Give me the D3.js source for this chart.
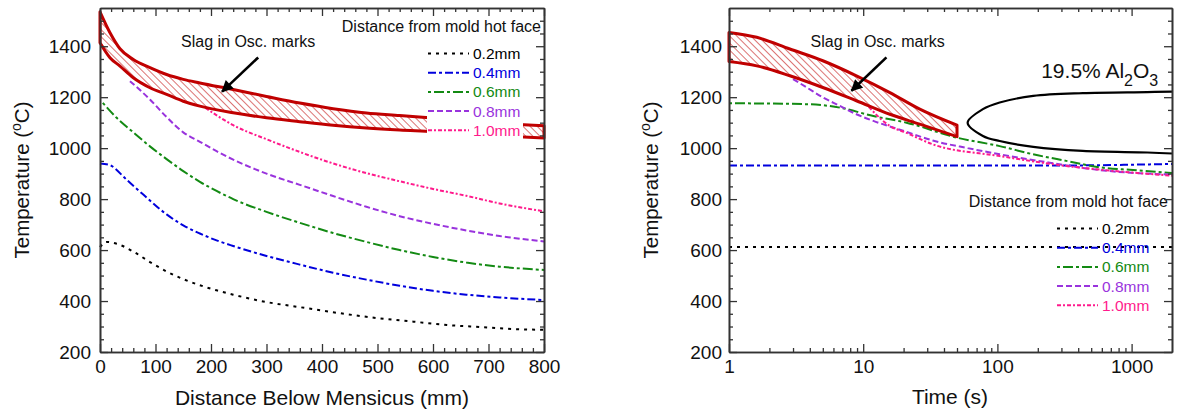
<!DOCTYPE html>
<html>
<head>
<meta charset="utf-8">
<script src="https://cdn.jsdelivr.net/npm/d3@7"></script>
<style>
  body { margin: 0; background: #fff; }
  svg text { font-family: "Liberation Sans", Arial, sans-serif; fill: #111; }
</style>
</head>
<body>
<script>
// ---- data ----
const tempTicks = [200, 400, 600, 800, 1000, 1200, 1400]
const distTicks = [0, 100, 200, 300, 400, 500, 600, 700, 800]
const timeTicks = [1, 10, 100, 1000]
const depthLabels = ['0.2mm', '0.4mm', '0.6mm', '0.8mm', '1.0mm']

// left: temperature vs distance below meniscus, [mm, degC]
const dist02 = [[0, 612], [12, 632], [30, 625], [60, 594], [90, 553], [120, 516], [150, 486], [180, 462], [210, 442], [240, 425], [300, 396], [360, 376], [420, 356], [500, 333], [565, 319], [625, 306], [685, 298], [745, 290], [800, 287]]
const dist04 = [[0, 940], [18, 933], [48, 876], [78, 818], [120, 740], [150, 697], [180, 665], [210, 638], [240, 616], [300, 577], [360, 543], [420, 511], [480, 484], [540, 460], [600, 440], [660, 425], [720, 414], [800, 404]]
const dist06 = [[5, 1178], [30, 1119], [60, 1062], [90, 1007], [120, 957], [150, 910], [180, 868], [210, 832], [240, 800], [300, 750], [360, 707], [420, 667], [480, 632], [540, 600], [600, 573], [660, 551], [720, 535], [800, 522]]
const dist08 = [[54, 1263], [90, 1191], [120, 1122], [150, 1062], [180, 1025], [210, 988], [240, 955], [300, 900], [360, 856], [420, 812], [480, 770], [540, 733], [600, 703], [660, 677], [720, 655], [800, 634]]
const dist10 = [[190, 1158], [240, 1090], [300, 1035], [360, 985], [420, 940], [480, 902], [540, 870], [600, 840], [660, 813], [720, 783], [800, 752]]
const slagDist = [0, 18, 36, 60, 90, 120, 150, 180, 240, 300, 360, 420, 480, 540, 600, 660, 720, 800]
const slagDistHi = [1535, 1453, 1390, 1348, 1316, 1289, 1270, 1256, 1230, 1203, 1177, 1155, 1138, 1128, 1118, 1108, 1098, 1088]
const slagDistLo = [1414, 1355, 1322, 1276, 1237, 1211, 1184, 1165, 1139, 1119, 1104, 1090, 1079, 1071, 1065, 1056, 1048, 1040]

// right: temperature vs time, [s, degC]
const time02 = [[1, 612], [2000, 612]]
const time04 = [[1, 932], [300, 932], [1000, 935], [2000, 938]]
const time06 = [[1, 1176], [2, 1175], [4, 1172], [6.7, 1159], [11.9, 1126], [21, 1100], [50, 1041], [104, 1008], [184, 976], [326, 950], [577, 925], [1025, 914], [2000, 902]]
const time08 = [[3, 1271], [3.8, 1238], [5, 1199], [6.7, 1166], [8.9, 1133], [11.9, 1107], [21, 1064], [33, 1030], [60, 1000], [104, 976], [245, 943], [577, 914], [2000, 896]]
const time10 = [[11, 1162], [15.8, 1087], [21, 1060], [33, 1015], [104, 969], [326, 930], [1025, 904], [2000, 892]]
const slagTime = [1, 1.61, 2.84, 5, 8.9, 15.8, 26.4, 50]
const slagTimeHi = [1454, 1435, 1389, 1343, 1284, 1218, 1153, 1090]
const slagTimeLo = [1340, 1323, 1284, 1238, 1186, 1133, 1094, 1045]
// 19.5% Al2O3 boundary
const aluminaCurve = [[2000, 1222], [1310, 1220], [432, 1216], [185, 1205], [104, 1179], [78, 1153], [60, 1100], [78, 1048], [104, 1028], [185, 1005], [432, 989], [1310, 983], [2000, 979]]

// ---- styles ----
const colors = ['#000000', '#0000dd', '#138a13', '#9933dd', '#ff1a8c']
const dashes = ['3,5', '8,3,3,3', '3,3,10,3', '6,3', '4,2,2,2']
const red = '#c00000'

const W = 1177, H = 417
const svg = d3.select('body').append('svg').attr('width', W).attr('height', H)

const defs = svg.append('defs')
const hatch = defs.append('pattern')
  .attr('id', 'hatch').attr('patternUnits', 'userSpaceOnUse')
  .attr('width', 5).attr('height', 5)
  .attr('patternTransform', 'rotate(-45)')
hatch.append('rect').attr('width', 5).attr('height', 5).attr('fill', '#fff')
hatch.append('line').attr('x1', 0).attr('y1', 0).attr('x2', 0).attr('y2', 5)
  .attr('stroke', red).attr('stroke-width', 1.1)

defs.append('marker').attr('id', 'arrow')
  .attr('viewBox', '0 0 10 10').attr('refX', 9).attr('refY', 5)
  .attr('markerWidth', 5).attr('markerHeight', 4.5).attr('orient', 'auto')
  .attr('markerUnits', 'strokeWidth')
  .append('path').attr('d', 'M0,0 L10,5 L0,10 Z').attr('fill', '#000')

const yTop = 8, yBot = 352
const yScaleL = d3.scaleLinear().domain([200, 1550]).range([yBot, yTop])
const yScaleR = d3.scaleLinear().domain([200, 1550]).range([yBot, yTop])
const xScaleL = d3.scaleLinear().domain([0, 800]).range([100, 544])
const xScaleR = d3.scaleLog().domain([1, 2000]).range([729, 1172])

const tempMinor = d3.range(250, 1550, 50).filter(v => v % 200 !== 0)
const distMinor = d3.range(20, 800, 20).filter(v => v % 100 !== 0)
const timeMinor = [2, 3, 4, 5, 6, 7, 8, 9].flatMap(m => [m, m * 10, m * 100])

function styleAxis (g) {
  g.selectAll('path.domain').attr('stroke', '#333').attr('stroke-width', 1.6)
  g.selectAll('.tick line').attr('stroke', '#333').attr('stroke-width', 1.3)
  g.selectAll('.tick text').attr('font-size', 19).attr('fill', '#111')
}

function frame (x, y, xMajor, xMinor, xFmt, yPad) {
  const [x0, x1] = x.range()
  const axes = [
    [d3.axisBottom(x), xMajor, xFmt, 8, 'translate(0,' + yBot + ')'],
    [d3.axisBottom(x), xMinor, null, 4, 'translate(0,' + yBot + ')'],
    [d3.axisTop(x), xMajor, null, 8, 'translate(0,' + yTop + ')'],
    [d3.axisTop(x), xMinor, null, 4, 'translate(0,' + yTop + ')'],
    [d3.axisLeft(y), tempTicks, d3.format('d'), 8, 'translate(' + x0 + ',0)'],
    [d3.axisLeft(y), tempMinor, null, 4, 'translate(' + x0 + ',0)'],
    [d3.axisRight(y), tempTicks, null, 8, 'translate(' + x1 + ',0)'],
    [d3.axisRight(y), tempMinor, null, 4, 'translate(' + x1 + ',0)']
  ]
  axes.forEach(([ax, vals, fmt, len, tr], i) => {
    ax.tickValues(vals).tickSizeInner(-len).tickSizeOuter(0)
      .tickPadding(i === 4 ? yPad : 8)
      .tickFormat(fmt || (() => ''))
    svg.append('g').attr('transform', tr).call(ax).call(styleAxis)
  })
}

function drawSeries (x, y, series) {
  const line = d3.line().x(d => x(d[0])).y(d => y(d[1])).curve(d3.curveMonotoneX)
  series.forEach((s, i) => {
    svg.append('path').datum(s).attr('d', line)
      .attr('fill', 'none').attr('stroke', colors[i]).attr('stroke-width', 2)
      .attr('stroke-dasharray', dashes[i])
  })
}

function drawBand (x, y, xs, hi, lo) {
  const area = d3.area().x(d => x(d)).y1((d, i) => y(hi[i])).y0((d, i) => y(lo[i]))
    .curve(d3.curveMonotoneX)
  svg.append('path').datum(xs).attr('d', area)
    .attr('fill', 'url(#hatch)').attr('stroke', red).attr('stroke-width', 3)
    .attr('stroke-linejoin', 'round')
}

function drawArrow (x, y, from, to, label, labelAt) {
  svg.append('line')
    .attr('x1', x(from[0])).attr('y1', y(from[1]))
    .attr('x2', x(to[0])).attr('y2', y(to[1]))
    .attr('stroke', '#000').attr('stroke-width', 2.6).attr('marker-end', 'url(#arrow)')
  svg.append('text').attr('x', x(labelAt[0])).attr('y', y(labelAt[1]))
    .attr('font-size', 16).text(label)
}

function legend (xLine, xRight, yTitle, rows, bg) {
  const g = svg.append('g')
  if (bg) g.append('rect').attr('x', bg[0]).attr('y', bg[1]).attr('width', bg[2]).attr('height', bg[3]).attr('fill', '#fff')
  g.append('text').attr('x', xRight).attr('y', yTitle).attr('text-anchor', 'end')
    .attr('font-size', 16).text('Distance from mold hot face')
  depthLabels.forEach((lab, i) => {
    const yy = rows[0] + i * rows[1]
    g.append('line').attr('x1', xLine).attr('x2', xLine + 41).attr('y1', yy).attr('y2', yy)
      .attr('stroke', colors[i]).attr('stroke-width', 2).attr('stroke-dasharray', dashes[i])
    g.append('text').attr('x', xLine + 45).attr('y', yy + 5.5).attr('font-size', 15.5)
      .style('fill', colors[i]).text(lab)
  })
}

function yTitle (xb) {
  const t = svg.append('text')
    .attr('transform', 'translate(' + xb + ',' + (yTop + yBot) / 2 + ') rotate(-90)')
    .attr('text-anchor', 'middle').attr('font-size', 20.5)
  t.append('tspan').text('Temperature (')
  t.append('tspan').attr('font-size', 14).attr('dy', -8).text('o')
  t.append('tspan').attr('dy', 8).text('C)')
}

// ---- left chart ----
drawSeries(xScaleL, yScaleL, [dist02, dist04, dist06, dist08, dist10])
drawBand(xScaleL, yScaleL, slagDist, slagDistHi, slagDistLo)
legend(428, 541, 32, [53.5, 19.2], [427, 40, 96, 102])
drawArrow(xScaleL, yScaleL, [285, 1356], [220, 1222], 'Slag in Osc. marks', [146, 1395])
frame(xScaleL, yScaleL, distTicks, distMinor, d3.format('d'), 9)
yTitle(29)
svg.append('text').attr('x', 322).attr('y', 405).attr('text-anchor', 'middle')
  .attr('font-size', 21).text('Distance Below Mensicus (mm)')

// ---- right chart ----
drawSeries(xScaleR, yScaleR, [time02, time04, time06, time08, time10])
drawBand(xScaleR, yScaleR, slagTime, slagTimeHi, slagTimeLo)
svg.append('path').datum(aluminaCurve)
  .attr('d', d3.line().x(d => xScaleR(d[0])).y(d => yScaleR(d[1])).curve(d3.curveCatmullRom))
  .attr('fill', 'none').attr('stroke', '#000').attr('stroke-width', 2.2)
const al = svg.append('text').attr('x', xScaleR(212)).attr('y', yScaleR(1275)).attr('font-size', 21)
al.append('tspan').text('19.5% Al')
al.append('tspan').attr('font-size', 16).attr('dy', 8).text('2')
al.append('tspan').attr('dy', -8).text('O')
al.append('tspan').attr('font-size', 16).attr('dy', 8).text('3')
drawArrow(xScaleR, yScaleR, [14.9, 1356], [8.18, 1225], 'Slag in Osc. marks', [4.05, 1395])
legend(1057, 1168, 207, [228.5, 19.2], null)
frame(xScaleR, yScaleR, timeTicks, timeMinor, d3.format('d'), 7)
yTitle(658)
svg.append('text').attr('x', 950).attr('y', 404).attr('text-anchor', 'middle')
  .attr('font-size', 21).text('Time (s)')
</script>
</body>
</html>
